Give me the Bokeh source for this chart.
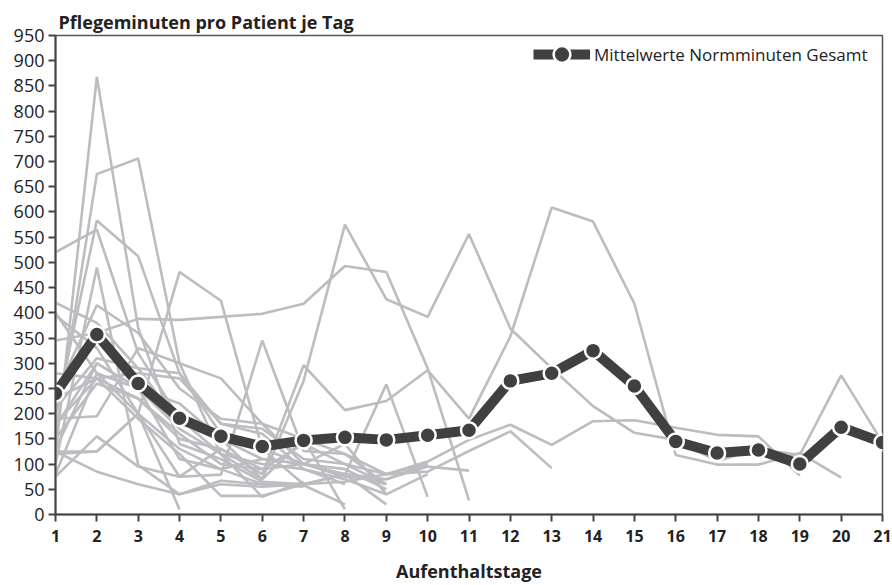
from bokeh.plotting import figure
from bokeh.models import FixedTicker, Legend, LegendItem
from bokeh.embed import file_html
from bokeh.resources import INLINE

days = list(range(1, 22))
mean_values = [240, 357, 260, 191, 155, 135, 147, 153, 148, 157, 167, 265, 280, 325, 255, 145, 122, 128, 100, 173, 143]

patient_01 = [120, 868, 370, 140, 110, 65, 60, 80, 60]
patient_02 = [160, 675, 706, 300, 270, 180, 100, 80, 20]
patient_03 = [520, 565, 320, 190, 120, 100, 90, 60]
patient_04 = [197, 583, 512, 280, 160, 130, 100, 90, 50]
patient_05 = [100, 490, 98, 40, 67, 60, 58, 20]
patient_06 = [420, 380, 290, 180, 150, 110, 100, 75, 70, 100]
patient_07 = [395, 330, 200, 130, 90, 110, 100, 80, 70, 95, 87]
patient_08 = [345, 360, 388, 386, 392, 398, 418, 493, 481, 290, 28]
patient_09 = [130, 300, 250, 170, 120, 70, 265, 575, 427, 392, 556, 369, 290, 215, 162, 148, 106, 130, 118, 276, 143]
patient_10 = [180, 270, 230, 150, 130, 80, 296, 207, 225, 286, 190, 353, 609, 581, 418, 118, 99, 99, 122, 73]
patient_11 = [75, 155, 95, 75, 79, 345, 126, 120, 80, 105, 148, 178, 138, 185, 187, 172, 158, 155, 77]
patient_12 = [125, 125, 200, 481, 424, 130, 60, 65, 80, 85, 126, 165, 92]
patient_13 = [280, 270, 280, 270, 180, 170, 110, 100, 60]
patient_14 = [240, 415, 360, 250, 190, 180, 150, 120, 60]
patient_15 = [210, 310, 290, 280, 180, 160, 90, 70, 40, 80]
patient_16 = [125, 85, 60, 40, 60, 55, 60, 79, 258, 35]
patient_17 = [80, 280, 200, 75, 130, 90, 100, 140, 40]
patient_18 = [150, 260, 230, 160, 100, 90, 140, 100, 80, 100]
patient_19 = [120, 125, 200, 10]
patient_20 = [175, 300, 250, 220, 150, 70, 150, 10]
patient_21 = [190, 195, 330, 300, 120, 35, 65]
patient_22 = [230, 270, 190, 120, 37, 37, 60]
patient_23 = [400, 280, 250, 110, 90, 60, 55]

patients = [patient_01, patient_02, patient_03, patient_04, patient_05, patient_06,
            patient_07, patient_08, patient_09, patient_10, patient_11, patient_12,
            patient_13, patient_14, patient_15, patient_16, patient_17, patient_18,
            patient_19, patient_20, patient_21, patient_22, patient_23]

y_ticks = list(range(0, 951, 50))

FONT = "Open Sans"
GRAY = "#bcbdc0"
DARK = "#404040"

p = figure(width=892, height=585, x_range=(1, 21), y_range=(0, 950),
           output_backend="svg", toolbar_location=None,
           min_border_left=55, min_border_right=10, min_border_top=35, min_border_bottom=68,
           title="Pflegeminuten pro Patient je Tag")

p.title.text_font = FONT
p.title.text_font_style = "bold"
p.title.text_font_size = "18px"
p.title.text_color = "#222222"
p.title.offset = 3
p.title.standoff = 4

for vals in patients:
    p.line(days[:len(vals)], vals, line_color=GRAY, line_width=2.6)

ml = p.line(days, mean_values, line_color=DARK, line_width=10, line_join="round")
ms = p.scatter(days, mean_values, size=16, fill_color=DARK, line_color="white", line_width=2.5)

legend = Legend(items=[LegendItem(label="Mittelwerte Normminuten Gesamt", renderers=[ml, ms])],
                location=(478, 439))
legend.label_text_font = FONT
legend.label_text_font_size = "17px"
legend.label_text_color = "#222222"
legend.glyph_width = 57
legend.glyph_height = 42
legend.border_line_color = None
legend.background_fill_alpha = 0
legend.margin = 0
legend.padding = 0
legend.label_standoff = 4
p.add_layout(legend)

p.xgrid.visible = False
p.ygrid.visible = False
p.outline_line_color = "#555555"
p.outline_line_width = 1.5

p.xaxis.ticker = FixedTicker(ticks=days)
p.yaxis.ticker = FixedTicker(ticks=y_ticks)
for ax in (p.xaxis[0], p.yaxis[0]):
    ax.axis_line_color = "#444444"
    ax.axis_line_width = 2
    ax.major_tick_line_color = "#444444"
    ax.major_tick_line_width = 2
    ax.major_tick_out = 7
    ax.major_tick_in = 0
    ax.minor_tick_line_color = None
    ax.major_label_text_font = FONT
    ax.major_label_text_color = "#222222"

p.yaxis.major_label_text_font_size = "18px"
p.yaxis.major_label_standoff = 4
p.xaxis.major_label_text_font_size = "16px"
p.xaxis.major_label_text_font_style = "bold"
p.xaxis.major_label_standoff = 8
p.xaxis.axis_label = "Aufenthaltstage"
p.xaxis.axis_label_text_font = FONT
p.xaxis.axis_label_text_font_style = "bold"
p.xaxis.axis_label_text_font_size = "18px"
p.xaxis.axis_label_text_color = "#222222"
p.xaxis.axis_label_standoff = 14

open("out.html", "w").write(file_html(p, INLINE))
